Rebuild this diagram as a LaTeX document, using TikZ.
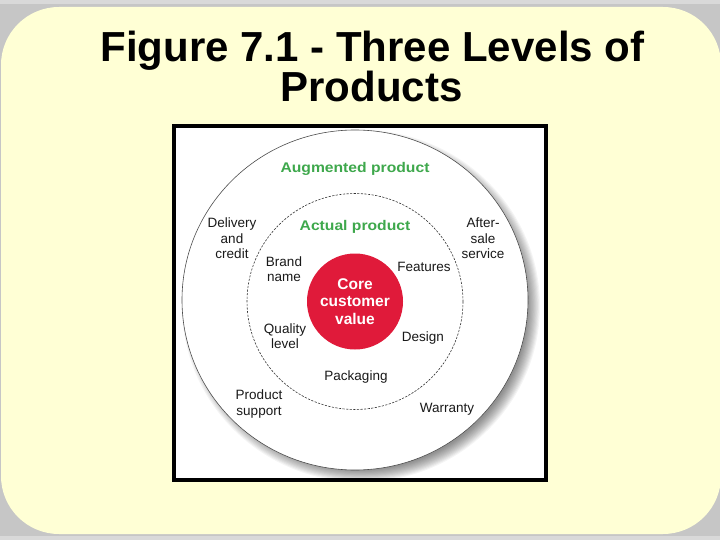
\documentclass[tikz,border=0pt]{standalone}
\usepackage{fontspec}
\setmainfont{Liberation Sans}
\newfontfamily\widefont{Liberation Sans}[FakeStretch=1.12]
\definecolor{bgyellow}{RGB}{255,255,213}
\definecolor{marble}{RGB}{198,198,198}
\definecolor{corered}{RGB}{224,26,58}
\definecolor{augreen}{RGB}{62,168,76}
\tikzset{
  lbl/.style={align=center, inner sep=0pt, font=\fontsize{13.5}{15.5}\selectfont, text=black!90},
  grn/.style={inner sep=0pt, font=\widefont\bfseries\fontsize{14}{16}\selectfont, text=augreen},
  ttl/.style={inner sep=0pt, anchor=base, font=\bfseries\fontsize{42}{42}\selectfont}
}
\begin{document}
\begin{tikzpicture}[x=1pt,y=-1pt]
\useasboundingbox (0,0) rectangle (720,540);
% background
\fill[marble] (0,0) rectangle (720,540);
\fill[white, opacity=0.35] (0,0) rectangle (720,4);
\fill[white, opacity=0.35] (0,536) rectangle (720,540);
\fill[bgyellow, rounded corners=58] (1,7) rectangle (721,534);
% title
\node[ttl] (t1) at (372.5,62) {Figure 7.1 - Three Levels of};
\node[ttl] (t2) at (371.5,102) {Products};
% framed figure
\draw[line width=4, fill=white] (174,126) rectangle (545.5,480);
% shadow of outer circle
\foreach \i in {0,...,11}{
  \fill[black, opacity=0.045] (361,306) ellipse ({179-\i*1.1} and {176-\i*1.1});
}
\fill[white] (355,300) ellipse (173 and 170);
\draw[line width=0.6, black!70] (355,300) ellipse (173 and 170);
% middle circle
\draw[line width=0.6, black!80, dash pattern=on 2.2pt off 1.4pt] (355,301.5) circle (108);
% core
\fill[corered] (355,301.5) circle (48);
\node[align=center, inner sep=0pt, text=white, font=\bfseries\fontsize{15.5}{17.5}\selectfont] (core) at (355,301.5) {Core\\customer\\value};
% labels
\node[grn] (aug) at (355,169) {Augmented product};
\node[grn] (act) at (355,227) {Actual product};
\node[lbl] (deliv) at (232,238.5) {Delivery\\and\\credit};
\node[lbl] (after) at (483,238.5) {After-\\sale\\service};
\node[lbl] (brand) at (284,269) {Brand\\name};
\node[lbl] (feat) at (424,267) {Features};
\node[lbl] (qual) at (285,336) {Quality\\level};
\node[lbl] (design) at (423,338) {Design};
\node[lbl] (pack) at (356,377) {Packaging};
\node[lbl] (supp) at (259,404) {Product\\support};
\node[lbl] (warr) at (447,409) {Warranty};
\end{tikzpicture}
\end{document}
